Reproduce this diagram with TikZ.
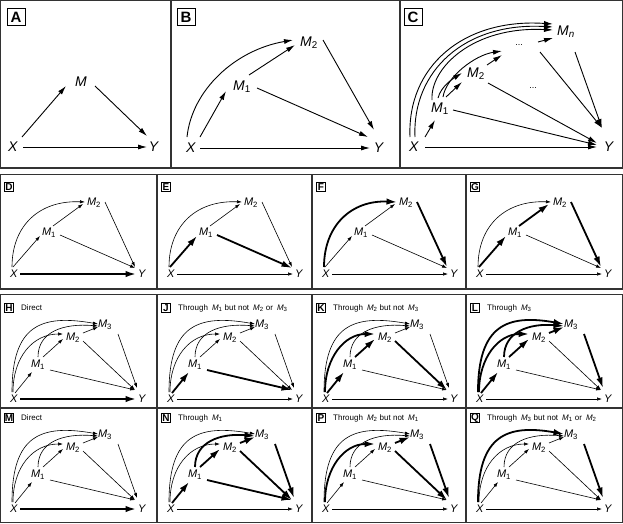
\documentclass[tikz,border=0pt]{standalone}
\usepackage{fontspec}
\setmainfont{Liberation Sans}
\usetikzlibrary{arrows.meta}
\newcommand\Mi[1]{\textit{M}\textsubscript{#1}}

\tikzset{
  frame/.style={draw=black!80, line width=1.1pt},
  big/.style={font=\fontsize{14}{14}\selectfont, inner sep=0pt},
  sml/.style={font=\fontsize{11}{11}\selectfont, inner sep=0pt},
  capt/.style={font=\fontsize{8}{8}\selectfont, inner sep=0pt, anchor=west},
  bigbox/.style={draw, line width=1pt, font=\fontsize{15}{15}\selectfont\bfseries, minimum width=18pt, minimum height=17pt, inner sep=0pt},
  smbox/.style={draw, line width=0.8pt, font=\fontsize{10}{10}\selectfont\bfseries, minimum width=9pt, minimum height=9pt, inner sep=0.3pt},
  eone/.style={line width=0.9pt, -{Latex[length=9pt,width=5pt]}},
  thn/.style={line width=0.6pt, -{Latex[length=5pt,width=3.4pt]}},
  thk/.style={line width=1.8pt, -{Latex[length=10.5pt,width=6.5pt]}},
  eXY/.style={thn}, eXA/.style={thn}, eAB/.style={thn}, eBC/.style={thn},
  eAY/.style={thn}, eBY/.style={thn}, eCY/.style={thn},
  eXB/.style={thn}, eXC/.style={thn}, eAC/.style={thn},
}

% panels D-G: #1 x0, #2 y0, #3 prefix, #4 letter, #5 thick styles
\newcommand\panelDG[5]{%
\begin{scope}[shift={(#1,#2)},#5]
\node[smbox] (#3L) at (9,12) {#4};
\node[sml] (#3X) at (14,99) {\textit{X}};
\node[sml] (#3Y) at (142,99) {\textit{Y}};
\node[sml] (#3A) at (49,58) {\Mi{1}};
\node[sml] (#3B) at (94,28) {\Mi{2}};
\draw[eXY] ([shift={(6,0)}]#3X.center) -- ([shift={(-6,0)}]#3Y.center);
\draw[eXA] ([shift={(-1,-7)}]#3X.center) -- ([shift={(-9,3)}]#3A.center);
\draw[eAB] ([shift={(4,-7)}]#3A.center) -- ([shift={(-11,1)}]#3B.center);
\draw[eAY] ([shift={(11,2)}]#3A.center) -- ([shift={(-7,-6)}]#3Y.center);
\draw[eBY] ([shift={(11,-1)}]#3B.center) -- ([shift={(-7,-7)}]#3Y.center);
\draw[eXB] ([shift={(-2,-7)}]#3X.center) .. controls +(0,-42) and +(-45,-2) .. ([shift={(-9,-1)}]#3B.center);
\end{scope}}

% panels H-Q: #1 x0, #2 y0, #3 prefix, #4 letter, #5 thick styles, #6 caption
\newcommand\panelHQ[6]{%
\begin{scope}[shift={(#1,#2)},#5]
\node[smbox] (#3L) at (9,12) {#4};
\node[capt] (#3T) at (21,12) {#6};
\node[sml] (#3X) at (14,103) {\textit{X}};
\node[sml] (#3Y) at (142,103) {\textit{Y}};
\node[sml] (#3A) at (38,69) {\Mi{1}};
\node[sml] (#3B) at (73,42) {\Mi{2}};
\node[sml] (#3C) at (105,29) {\Mi{3}};
\draw[eXY] ([shift={(6,0)}]#3X.center) -- ([shift={(-6,0)}]#3Y.center);
\draw[eXA] ([shift={(1,-6)}]#3X.center) -- ([shift={(-6,7)}]#3A.center);
\draw[eAB] ([shift={(5,-8)}]#3A.center) -- ([shift={(-10,1)}]#3B.center);
\draw[eBC] ([shift={(10,-5)}]#3B.center) -- ([shift={(-7,2)}]#3C.center);
\draw[eAY] ([shift={(12,5)}]#3A.center) -- ([shift={(-7,-9)}]#3Y.center);
\draw[eBY] ([shift={(10,3)}]#3B.center) -- ([shift={(-7,-9)}]#3Y.center);
\draw[eCY] ([shift={(13,9)}]#3C.center) -- ([shift={(-5,-11)}]#3Y.center);
\draw[eXB] ([shift={(-1,-7)}]#3X.center) .. controls +(0,-35) and +(-30,0) .. ([shift={(-10,-4)}]#3B.center);
\draw[eXC] ([shift={(-2,-7)}]#3X.center) .. controls +(0,-67) and +(-57,-10) .. ([shift={(-7,-1)}]#3C.center);
\draw[eAC] ([shift={(0,-8)}]#3A.center) .. controls +(0,-25) and +(-35,-3) .. ([shift={(-7,1)}]#3C.center);
\end{scope}}

\begin{document}
\begin{tikzpicture}[x=1pt,y=-1pt]
\useasboundingbox (0,0) rectangle (623,523);
% frames
\draw[frame] (0.6,0.6) rectangle (622.4,168);
\draw[frame] (171,0.6) -- (171,168);
\draw[frame] (400,0.6) -- (400,168);
\draw[frame] (0.6,174.5) rectangle (622.4,289);
\foreach \x in {157,312,466} \draw[frame] (\x,174.5) -- (\x,289);
\draw[frame] (0.6,294.5) rectangle (622.4,522.4);
\draw[frame] (0.6,408) -- (622.4,408);
\foreach \x in {157,312,466} \draw[frame] (\x,294.5) -- (\x,522.4);

% Panel A
\node[bigbox] (aL) at (16,17) {A};
\node[big] (aX) at (13,147) {\textit{X}};
\node[big] (aM) at (81,82) {\textit{M}};
\node[big] (aY) at (154,147) {\textit{Y}};
\draw[eone] ([shift={(9,-10)}]aX.center) -- ([shift={(-15,4)}]aM.center);
\draw[eone] ([shift={(14,4)}]aM.center) -- ([shift={(-7,-11)}]aY.center);
\draw[eone] ([shift={(10,0)}]aX.center) -- ([shift={(-7,0)}]aY.center);

% Panel B
\node[bigbox] (bL) at (186,17) {B};
\node[big] (bX) at (191,148) {\textit{X}};
\node[big] (bA) at (242,87) {\Mi{1}};
\node[big] (bB) at (309,43) {\Mi{2}};
\node[big] (bY) at (379,148) {\textit{Y}};
\draw[eone] ([shift={(9,0)}]bX.center) -- ([shift={(-9,0)}]bY.center);
\draw[eone] ([shift={(9,-11)}]bX.center) -- ([shift={(-16,4)}]bA.center);
\draw[eone] ([shift={(7,-12)}]bA.center) -- ([shift={(-14,2)}]bB.center);
\draw[eone] ([shift={(15,1)}]bA.center) -- ([shift={(-11,-11)}]bY.center);
\draw[eone] ([shift={(14,-3)}]bB.center) -- ([shift={(-5,-18)}]bY.center);
\draw[eone] ([shift={(-4,-11)}]bX.center) .. controls +(5,-47) and +(-58,10) .. ([shift={(-16,-3)}]bB.center);

% Panel C
\node[bigbox] (cL) at (413,17) {C};
\node[big] (cX) at (414,147) {\textit{X}};
\node[big] (cA) at (440,109) {\Mi{1}};
\node[big] (cB) at (476,74) {\Mi{2}};
\node[big] (cD) at (519,45) {\fontsize{9}{9}\selectfont ...};
\node[big] (cE) at (533,88) {\fontsize{9}{9}\selectfont ...};
\node[big] (cN) at (566,32) {\Mi{\textit{n}}};
\node[big] (cY) at (609,147) {\textit{Y}};
\draw[eone] ([shift={(11,0)}]cX.center) -- ([shift={(-12,0)}]cY.center);
\draw[eone] ([shift={(11,-10)}]cX.center) -- ([shift={(-5,11)}]cA.center);
\draw[eone] ([shift={(6,-12)}]cA.center) -- ([shift={(-14,8)}]cB.center);
\draw[eone] ([shift={(11,-9)}]cB.center) -- ([shift={(-17,10)}]cD.center);
\draw[eone] ([shift={(19,-3)}]cD.center) -- ([shift={(-13,6)}]cN.center);
\draw[eone] ([shift={(13,1)}]cA.center) -- ([shift={(-12,-2)}]cY.center);
\draw[eone] ([shift={(12,9)}]cB.center) -- ([shift={(-12,-4)}]cY.center);
\draw[eone] ([shift={(21,7)}]cD.center) -- ([shift={(-7,-19)}]cY.center);
\draw[eone] ([shift={(9,20)}]cN.center) -- ([shift={(-7,-19)}]cY.center);
\draw[eone] ([shift={(-4,-10)}]cX.center) .. controls +(-3,-70) and +(-90,-6) .. ([shift={(-13,-8)}]cN.center);
\draw[eone] ([shift={(1,-10)}]cX.center) .. controls +(-3,-66) and +(-88,-5) .. ([shift={(-13,-5)}]cN.center);
\draw[eone] ([shift={(-8,-9)}]cA.center) .. controls +(-2,-32) and +(-80,-4) .. ([shift={(-13,-2)}]cN.center);
\draw[eone] ([shift={(-2,-11)}]cA.center) .. controls +(3,-12) and +(-8,5) .. ([shift={(-14,-1)}]cB.center);
\draw[eone] ([shift={(3,-12)}]cA.center) .. controls +(3,-20) and +(-27,4) .. ([shift={(-17,6)}]cD.center);

% Row 2
\panelDG{0}{175}{d}{D}{eXY/.style={thk}}
\panelDG{157}{175}{e}{E}{eXA/.style={thk},eAY/.style={thk}}
\panelDG{312}{175}{f}{F}{eXB/.style={thk},eBY/.style={thk}}
\panelDG{466}{175}{g}{G}{eXA/.style={thk},eAB/.style={thk},eBY/.style={thk}}

% Row 3
\panelHQ{0}{296}{h}{H}{eXY/.style={thk}}{Direct}
\panelHQ{157}{296}{j}{J}{eXA/.style={thk},eAY/.style={thk}}{Through\enspace\Mi{1} but not\enspace\Mi{2} or\enspace\Mi{3}}
\panelHQ{312}{296}{k}{K}{eXA/.style={thk},eAB/.style={thk},eXB/.style={thk},eBY/.style={thk}}{Through\enspace\Mi{2} but not\enspace\Mi{3}}
\panelHQ{466}{296}{l}{L}{eXA/.style={thk},eAB/.style={thk},eBC/.style={thk},eXB/.style={thk},eXC/.style={thk},eAC/.style={thk},eCY/.style={thk}}{Through\enspace\Mi{3}}

% Row 4
\panelHQ{0}{406}{m}{M}{eXY/.style={thk}}{Direct}
\panelHQ{157}{406}{n}{N}{eXA/.style={thk},eAB/.style={thk},eAC/.style={thk},eAY/.style={thk},eBC/.style={thk},eBY/.style={thk},eCY/.style={thk}}{Through\enspace\Mi{1}}
\panelHQ{312}{406}{p}{P}{eXB/.style={thk},eBC/.style={thk},eBY/.style={thk},eCY/.style={thk}}{Through\enspace\Mi{2} but not\enspace\Mi{1}}
\panelHQ{466}{406}{q}{Q}{eXC/.style={thk},eCY/.style={thk}}{Through\enspace\Mi{3} but not\enspace\Mi{1} or\enspace\Mi{2}}
\end{tikzpicture}
\end{document}
